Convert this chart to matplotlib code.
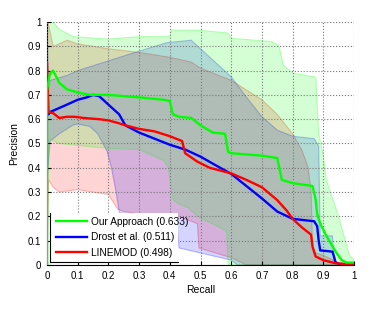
import numpy as np
import matplotlib
matplotlib.use("Agg")
from matplotlib import pyplot as plt

plt.rcParams['font.family'] = ['Liberation Sans', 'DejaVu Sans']

# mean precision/recall curves
ours_x = [0, 0.0, 0.01, 0.02, 0.04, 0.065, 0.1, 0.14, 0.2, 0.3, 0.38, 0.4, 0.41, 0.43, 0.47, 0.5,
          0.54, 0.58, 0.59, 0.6, 0.7, 0.75, 0.765, 0.8, 0.865, 0.875, 0.88, 0.89, 0.91, 0.94, 0.96,
          0.975, 1.0]
ours_y = [0, 0.72, 0.79, 0.80, 0.75, 0.723, 0.71, 0.70, 0.70, 0.69, 0.68, 0.675, 0.62, 0.61, 0.605,
          0.575, 0.545, 0.54, 0.465, 0.46, 0.45, 0.44, 0.35, 0.337, 0.325, 0.27, 0.21, 0.17, 0.12,
          0.055, 0.02, 0.01, 0.01]

drost_x = [0, 0.005, 0.01, 0.02, 0.065, 0.1, 0.13, 0.15, 0.17, 0.2, 0.235, 0.255, 0.3, 0.34, 0.4,
           0.45, 0.5, 0.55, 0.6, 0.7, 0.75, 0.8, 0.87, 0.88, 0.885, 0.89, 0.93, 0.935, 0.94, 0.95,
           0.97, 1.0]
drost_y = [0.66, 0.62, 0.63, 0.635, 0.66, 0.68, 0.69, 0.70, 0.695, 0.66, 0.62, 0.575, 0.545, 0.525,
           0.495, 0.475, 0.446, 0.41, 0.375, 0.274, 0.22, 0.19, 0.18, 0.16, 0.10, 0.06, 0.055, 0.034,
           0.01, 0.005, 0.003, 0.003]

linemod_x = [0, 0.005, 0.02, 0.04, 0.065, 0.09, 0.12, 0.17, 0.2, 0.23, 0.255, 0.3, 0.35, 0.4, 0.43,
             0.44, 0.45, 0.49, 0.53, 0.6, 0.65, 0.7, 0.75, 0.78, 0.8, 0.83, 0.86, 0.865, 0.875, 0.9,
             0.94, 0.97, 1.0]
linemod_y = [0.83, 0.63, 0.625, 0.605, 0.61, 0.61, 0.605, 0.60, 0.595, 0.585, 0.575, 0.56, 0.55,
             0.53, 0.515, 0.51, 0.46, 0.425, 0.40, 0.377, 0.35, 0.32, 0.267, 0.225, 0.19, 0.155,
             0.125, 0.075, 0.035, 0.02, 0.007, 0.004, 0.004]

# spread bands (upper / lower)
ours_up_x = [0, 0.02, 0.04, 0.085, 0.14, 0.2, 0.3, 0.4, 0.405, 0.49, 0.59, 0.6, 0.73, 0.755, 0.77,
             0.8, 0.87, 0.876, 0.885, 0.9, 0.91, 0.95, 0.985, 1.0]
ours_up_y = [1.0, 1.0, 0.97, 0.94, 0.935, 0.93, 0.94, 0.94, 0.967, 0.967, 0.955, 0.933, 0.92, 0.905,
             0.823, 0.79, 0.775, 0.77, 0.54, 0.45, 0.35, 0.2, 0.04, 0.02]
ours_lo_x = [0, 0.005, 0.04, 0.14, 0.2, 0.3, 0.38, 0.395, 0.41, 0.43, 0.46, 0.5, 0.53, 0.585, 0.59, 1.0]
ours_lo_y = [0, 0.52, 0.50, 0.487, 0.48, 0.475, 0.43, 0.40, 0.27, 0.25, 0.235, 0.19, 0.175, 0.14,
             0.0, 0.0]

drost_up_x = [0, 0.005, 0.01, 0.065, 0.1, 0.2, 0.3, 0.39, 0.47, 0.5, 0.6, 0.65, 0.7, 0.75, 0.8,
              0.87, 0.885, 0.89, 0.93, 0.935, 0.96, 1.0]
drost_up_y = [1.0, 0.72, 0.76, 0.78, 0.80, 0.84, 0.88, 0.915, 0.925, 0.89, 0.775, 0.69, 0.61, 0.555,
              0.53, 0.52, 0.49, 0.12, 0.12, 0.02, 0.0, 0.0]
drost_lo_x = [0, 0.01, 0.04, 0.085, 0.1, 0.14, 0.165, 0.195, 0.21, 0.225, 0.235, 0.24, 0.42, 0.43,
              0.6, 0.62, 1.0]
drost_lo_y = [0.35, 0.51, 0.54, 0.576, 0.58, 0.57, 0.54, 0.47, 0.40, 0.30, 0.22, 0.21, 0.21, 0.07,
              0.02, 0.0, 0.0]

linemod_up_x = [0, 0.005, 0.02, 0.04, 0.065, 0.1, 0.2, 0.3, 0.4, 0.47, 0.5, 0.6, 0.7, 0.75, 0.8,
                0.83, 0.85, 0.86, 0.865, 0.875, 0.9, 0.95, 1.0]
linemod_up_y = [1.0, 0.99, 0.90, 0.91, 0.925, 0.91, 0.89, 0.875, 0.855, 0.835, 0.81, 0.76, 0.68,
                0.62, 0.54, 0.473, 0.405, 0.31, 0.08, 0.05, 0.04, 0.01, 0.0]
linemod_lo_x = [0, 0.005, 0.02, 0.04, 0.1, 0.15, 0.2, 0.23, 0.25, 0.3, 0.43, 0.49, 0.495, 0.6, 0.65, 1.0]
linemod_lo_y = [0.0, 0.35, 0.32, 0.30, 0.31, 0.30, 0.29, 0.23, 0.22, 0.21, 0.20, 0.17, 0.07, 0.03,
                0.0, 0.0]

labels = ['Our Approach (0.633)', 'Drost et al. (0.511)', 'LINEMOD (0.498)']
ticks = [0, 0.1, 0.2, 0.3, 0.4, 0.5, 0.6, 0.7, 0.8, 0.9, 1]
tick_labels = ['0', '0.1', '0.2', '0.3', '0.4', '0.5', '0.6', '0.7', '0.8', '0.9', '1']


def band(ax, xu, yu, xl, yl, color):
    xs = np.linspace(0, 1, 801)
    up = np.interp(xs, xu, yu)
    lo = np.interp(xs, xl, yl)
    ax.fill_between(xs, lo, up, facecolor=color, alpha=0.17, edgecolor='none', zorder=1)
    ax.plot(xu, yu, color=color, alpha=0.25, lw=0.8, zorder=1)
    ax.plot(xl, yl, color=color, alpha=0.25, lw=0.8, zorder=1)


fig = plt.figure(figsize=(3.74, 3.10), dpi=100)
ax = fig.add_axes([0.1257, 0.1452, 0.8208, 0.7838])

band(ax, linemod_up_x, linemod_up_y, linemod_lo_x, linemod_lo_y, '#ff0000')
band(ax, drost_up_x, drost_up_y, drost_lo_x, drost_lo_y, '#0000ff')
band(ax, ours_up_x, ours_up_y, ours_lo_x, ours_lo_y, '#00ff00')

l1, = ax.plot(ours_x, ours_y, color='#00ff00', lw=1.7, zorder=4)
l2, = ax.plot(drost_x, drost_y, color='#0000ff', lw=1.7, zorder=3)
l3, = ax.plot(linemod_x, linemod_y, color='#ff0000', lw=1.7, zorder=3)

ax.set_xlim(0, 1)
ax.set_ylim(0, 1)
ax.set_xticks(ticks)
ax.set_xticklabels(tick_labels)
ax.set_yticks(ticks)
ax.set_yticklabels(tick_labels)
ax.tick_params(direction='in', length=3, labelsize=7, pad=4)
ax.grid(True, linestyle=':', color='#777777', linewidth=0.8)
ax.set_axisbelow(False)
for s in ['top', 'right']:
    ax.spines[s].set_visible(False)
ax.set_xlabel('Recall', fontsize=7.5, labelpad=3)
ax.set_ylabel('Precision', fontsize=7.5, labelpad=6)

# legend box (MATLAB style: only left and bottom edges)
lax = fig.add_axes([0.134, 0.155, 0.342, 0.158])
lax.set_facecolor('white')
lax.set_xticks([])
lax.set_yticks([])
for s in ['top', 'right']:
    lax.spines[s].set_visible(False)
lax.legend([l1, l2, l3], labels, loc='center left', frameon=False, fontsize=7.3,
           handlelength=3.0, handletextpad=0.4, labelspacing=0.55, borderaxespad=0.2)

fig.savefig('out.png', dpi=100)
